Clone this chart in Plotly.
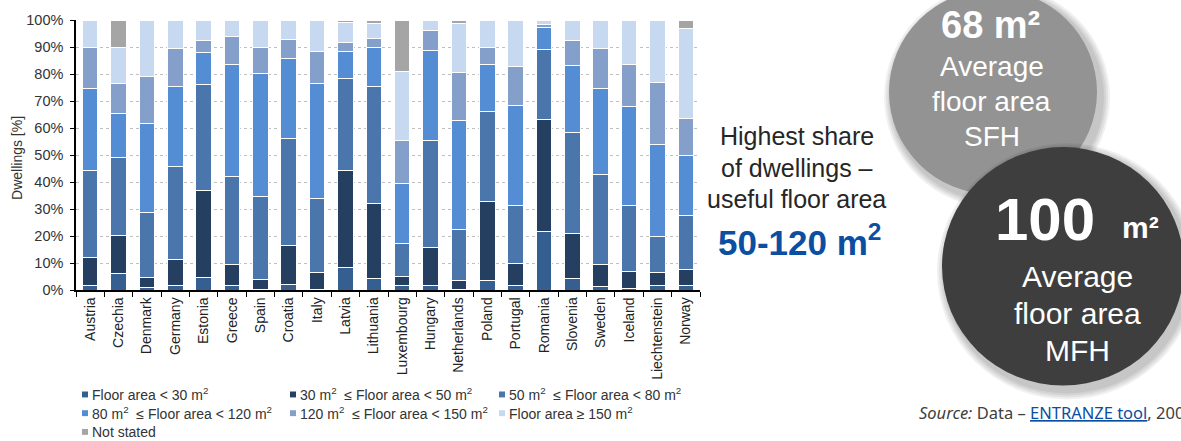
import plotly.graph_objects as go

# Dwelling stock by useful floor area, share per country (%)
countries = ["Austria", "Czechia", "Denmark", "Germany", "Estonia", "Greece", "Spain",
             "Croatia", "Italy", "Latvia", "Lithuania", "Luxembourg", "Hungary",
             "Netherlands", "Poland", "Portugal", "Romania", "Slovenia", "Sweden",
             "Iceland", "Liechtenstein", "Norway"]

class_labels = [
    "Floor area < 30 m<sup>2</sup>",
    "30 m<sup>2</sup>  ≤ Floor area < 50 m<sup>2</sup>",
    "50 m<sup>2</sup>  ≤ Floor area < 80 m<sup>2</sup>",
    "80 m<sup>2</sup>  ≤ Floor area < 120 m<sup>2</sup>",
    "120 m<sup>2</sup>  ≤ Floor area < 150 m<sup>2</sup>",
    "Floor area ≥ 150 m<sup>2</sup>",
    "Not stated",
]

area_lt30 = [1.5, 6.1, 1.0, 1.5, 4.5, 1.5, 0.3, 2.1, 0.2, 8.5, 4.3, 1.5, 1.8, 0.3, 3.6, 1.8,
             21.7, 4.3, 1.2, 0.7, 1.5, 1.5]
area_30_50 = [10.4, 14.2, 3.5, 9.7, 32.3, 8.0, 3.6, 14.3, 6.2, 35.8, 27.7, 3.5, 14.0, 3.1,
              29.1, 7.9, 41.6, 16.7, 8.3, 6.0, 4.8, 6.0]
area_50_80 = [32.2, 28.9, 24.3, 34.4, 39.3, 32.4, 30.6, 39.6, 27.5, 34.2, 43.5, 12.4, 39.5,
              19.0, 33.4, 21.6, 25.9, 37.4, 33.4, 24.6, 13.7, 20.1]
area_80_120 = [30.5, 16.0, 32.9, 29.6, 11.9, 41.5, 45.7, 29.7, 42.5, 9.8, 14.3, 22.0, 33.4,
               40.3, 17.3, 37.0, 7.9, 24.7, 31.6, 36.6, 33.8, 22.2]
area_120_150 = [15.1, 11.3, 17.4, 14.1, 4.3, 10.5, 9.5, 6.9, 11.8, 3.2, 3.4, 15.8, 7.3, 17.7,
                6.6, 14.4, 1.3, 9.2, 14.8, 15.6, 23.1, 13.9]
area_ge150 = [10.3, 13.4, 20.9, 10.7, 7.7, 6.1, 10.3, 7.4, 11.8, 7.5, 5.5, 25.6, 4.0, 18.4,
              10.0, 17.3, 1.6, 7.7, 10.7, 16.5, 23.1, 33.1]
not_stated = [0, 10.1, 0, 0, 0, 0, 0, 0, 0, 1.0, 1.3, 19.2, 0, 1.2, 0, 0, 0, 0, 0, 0, 0, 3.2]

series = [area_lt30, area_30_50, area_50_80, area_80_120, area_120_150, area_ge150, not_stated]
colors = ["#365F91", "#243F60", "#4A76AC", "#548DD4", "#859FCB", "#C6D9F1", "#A5A5A5"]

FONT = "Arial, 'Liberation Sans', sans-serif"
W, H = 1181, 441
ML, MR, MT, MB = 76, 481, 16, 151


def px(x):
    return (x - ML) / (W - ML - MR)


def py(y):
    return (H - MB - y) / (H - MT - MB)


fig = go.Figure()
for vals, col, lab in zip(series, colors, class_labels):
    fig.add_trace(go.Bar(
        x=countries, y=vals, name=lab, marker=dict(color=col, line=dict(color="white", width=1)),
        showlegend=False,
    ))

shapes = []
annotations = []

# legend block under the chart
legend_pos = [(85, 396), (293, 396), (502, 396), (85, 415), (293, 415), (502, 415), (85, 434)]
for (lx, ly), col, lab in zip(legend_pos, colors, class_labels):
    shapes.append(dict(type="rect", xref="paper", yref="paper",
                       x0=px(lx - 3), x1=px(lx + 3), y0=py(ly + 3), y1=py(ly - 3),
                       fillcolor=col, line=dict(width=0)))
    annotations.append(dict(x=px(lx + 5), y=py(ly), xref="paper", yref="paper",
                            text=lab, showarrow=False, xanchor="left", yanchor="middle",
                            font=dict(family=FONT, size=14, color="#333333")))

# y-axis title
annotations.append(dict(x=px(17), y=py(156), xref="paper", yref="paper", text="Dwellings [%]",
                        textangle=-90, showarrow=False, xanchor="center", yanchor="middle",
                        font=dict(family=FONT, size=14, color="#333333")))


def circle(cx, cy, r, color, layer="above"):
    return dict(type="circle", xref="paper", yref="paper", layer=layer,
                x0=px(cx - r), x1=px(cx + r), y0=py(cy + r), y1=py(cy - r),
                fillcolor=color, line=dict(width=0))


# soft drop shadows and the two circles
for (cx, cy, r, col) in [(993, 89, 104, "#939393"), (1063, 266, 121, "#3E3E3E")]:
    for grow in [9, 7, 5, 3]:
        shapes.append(circle(cx + 4, cy + 5, r + grow, "rgba(0,0,0,0.06)"))
    shapes.append(circle(cx, cy, r, col))


def label(x, y, text, size, color="white", bold=False, anchor="center", family=FONT):
    annotations.append(dict(x=px(x), y=py(y), xref="paper", yref="paper",
                            text=f"<b>{text}</b>" if bold else text, showarrow=False,
                            xanchor=anchor, yanchor="middle",
                            font=dict(family=family, size=size, color=color)))


# key message next to the chart
label(797, 134, "Highest share", 25, "#262626")
label(797, 166, "of dwellings –", 25, "#262626")
label(797, 198, "useful floor area", 25, "#262626")
label(799, 239, "50-120 m<sup>2</sup>", 35, "#0B4EA2", bold=True)

# single-family houses
label(991, 21, "68 m²", 38, bold=True)
label(992, 63, "Average", 28)
label(992, 99, "floor area", 28)
label(992, 134, "SFH", 28)

# multi-family houses
label(1045, 218, "100", 60, bold=True)
label(1140, 227, "m²", 30, bold=True)
label(1077, 276, "Average", 30)
label(1077, 314, "floor area", 30)
label(1077, 351, "MFH", 30)

# source line
annotations.append(dict(x=px(917), y=py(414), xref="paper", yref="paper", showarrow=False,
                        xanchor="left", yanchor="middle",
                        text="<i>Source:</i> Data – <span style='color:#0B4EA2'><u>ENTRANZE tool</u></span>, 2008",
                        font=dict(family="'Noto Sans', 'DejaVu Sans', sans-serif", size=16.5,
                                  color="#404040")))

fig.update_layout(
    barmode="stack",
    bargap=0.45,
    width=W, height=H, autosize=False,
    margin=dict(l=ML, r=MR, t=MT, b=MB, pad=0),
    paper_bgcolor="white", plot_bgcolor="white",
    font=dict(family=FONT, size=13, color="#333333"),
    shapes=shapes,
    annotations=annotations,
    xaxis=dict(
        type="category", tickangle=-90, showline=True, linecolor="black", linewidth=1.5,
        ticks="outside", tickson="boundaries", ticklen=5, tickcolor="black",
        tickfont=dict(family=FONT, size=14, color="#222222"), showgrid=False,
    ),
    yaxis=dict(
        range=[0, 100], dtick=10, ticksuffix="%", showline=True, linecolor="black", linewidth=1.5,
        ticks="outside", ticklen=4, tickcolor="black", ticklabelstandoff=4,
        tickfont=dict(family=FONT, size=14.5, color="#333333"),
        showgrid=True, gridcolor="#BFBFBF", griddash="dot", gridwidth=1, zeroline=False,
    ),
)

fig.write_html("out.html")
